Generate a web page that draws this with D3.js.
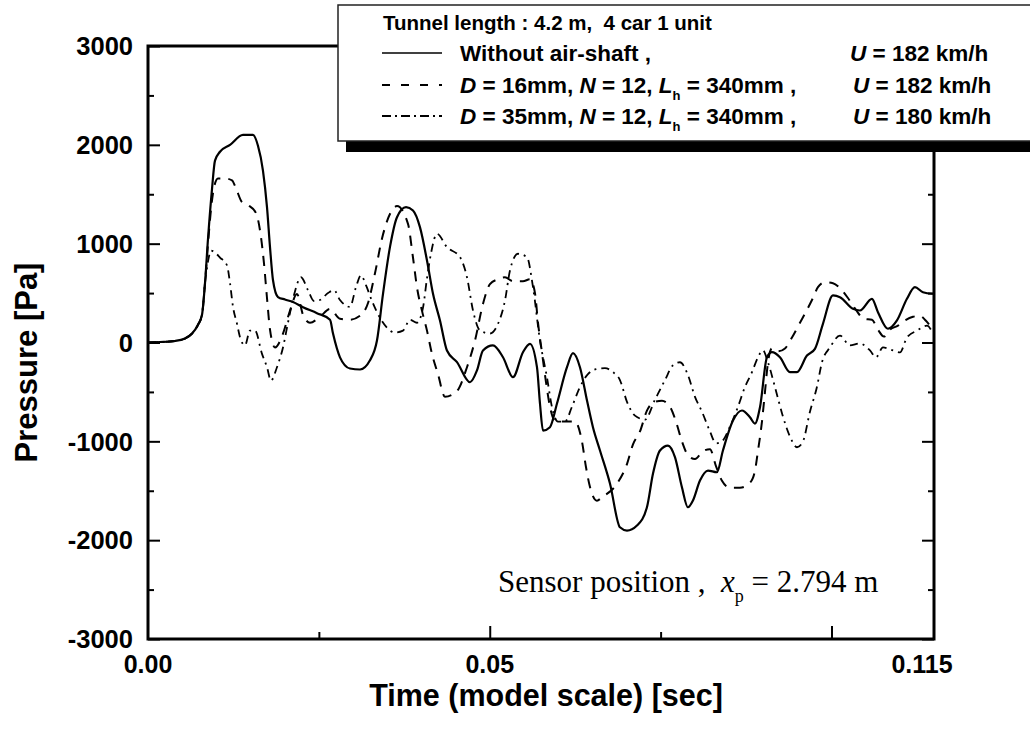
<!DOCTYPE html>
<html>
<head>
<meta charset="utf-8">
<script src="https://cdn.jsdelivr.net/npm/d3@7"></script>
<style>
  html, body { margin: 0; padding: 0; background: #fff; }
  svg { display: block; }
  text { white-space: pre; }
</style>
</head>
<body>
<svg id="chart" width="1030" height="734"></svg>
<script>
// ---------- DATA (time in seconds, pressure in Pa) ----------
const solidTime = [0, 0.00176, 0.00395, 0.00541, 0.00644, 0.00732, 0.00790, 0.00834, 0.00878, 0.00936, 0.00980,
  0.01053, 0.01200, 0.01390, 0.01536, 0.01609, 0.01682, 0.01741, 0.01785, 0.01829, 0.01902, 0.02004, 0.02121,
  0.02268, 0.02472, 0.02663, 0.02707, 0.02809, 0.02955, 0.03102, 0.03248, 0.03350, 0.03438, 0.03540, 0.03643,
  0.03775, 0.03877, 0.03979, 0.04082, 0.04170, 0.04272, 0.04374, 0.04521, 0.04711, 0.04813, 0.04901, 0.05047,
  0.05194, 0.05340, 0.05486, 0.05589, 0.05691, 0.05735, 0.05779, 0.05881, 0.05984, 0.06130, 0.06218, 0.06320,
  0.06423, 0.06510, 0.06613, 0.06759, 0.06905, 0.07008, 0.07154, 0.07300, 0.07388, 0.07491, 0.07608, 0.07710,
  0.07812, 0.07900, 0.07973, 0.08076, 0.08193, 0.08324, 0.08412, 0.08559, 0.08690, 0.08807, 0.08880, 0.08954,
  0.09056, 0.09129, 0.09246, 0.09392, 0.09495, 0.09641, 0.09758, 0.09875, 0.10022, 0.10124, 0.10314, 0.10417,
  0.10592, 0.10680, 0.10826, 0.10958, 0.11104, 0.11221, 0.11338, 0.11485];
const solidPressure = [0, 5, 15, 40, 90, 180, 280, 600, 1050, 1550, 1840,
  1930, 2000, 2100, 2100, 1990, 1740, 1370, 965, 630, 460, 435, 410,
  357, 297, 230, 90, -150, -263, -273, -180, 20, 490, 965, 1268,
  1370, 1336, 1167, 830, 493, 223, -81, -199, -402, -283, -81, -30,
  -149, -351, -98, -13, -250, -617, -891, -857, -617, -250, -108, -250,
  -587, -857, -1093, -1427, -1870, -1903, -1852, -1667, -1329, -1093, -1043, -1160,
  -1465, -1667, -1599, -1397, -1296, -1313, -1093, -790, -688, -756, -820, -655,
  -149, -98, -149, -300, -300, -132, -64, 189, 476, 459, 341, 324,
  442, 307, 139, 223, 442, 560, 509, 493];

const dashTime = [0, 0.00395, 0.00541, 0.00644, 0.00732, 0.00790, 0.00834, 0.00878, 0.00922, 0.00966, 0.01024,
  0.01127, 0.01229, 0.01287, 0.01375, 0.01463, 0.01580, 0.01653, 0.01697, 0.01741, 0.01785, 0.01858, 0.01975,
  0.02077, 0.02180, 0.02268, 0.02370, 0.02516, 0.02663, 0.02809, 0.02955, 0.03102, 0.03219, 0.03321, 0.03423,
  0.03540, 0.03643, 0.03804, 0.03877, 0.03935, 0.04009, 0.04082, 0.04155, 0.04243, 0.04345, 0.04521, 0.04667,
  0.04784, 0.04901, 0.05003, 0.05121, 0.05223, 0.05340, 0.05486, 0.05589, 0.05662, 0.05706, 0.05764, 0.05823,
  0.05881, 0.05954, 0.06101, 0.06247, 0.06349, 0.06408, 0.06466, 0.06569, 0.06642, 0.06861, 0.07008, 0.07096,
  0.07198, 0.07300, 0.07417, 0.07520, 0.07637, 0.07725, 0.07812, 0.07900, 0.08003, 0.08120, 0.08222, 0.08310,
  0.08398, 0.08515, 0.08661, 0.08807, 0.08880, 0.08924, 0.08983, 0.09027, 0.09071, 0.09129, 0.09217, 0.09319,
  0.09422, 0.09539, 0.09641, 0.09729, 0.09802, 0.09905, 0.10022, 0.10124, 0.10241, 0.10358, 0.10475, 0.10592,
  0.10680, 0.10768, 0.10855, 0.10973, 0.11090, 0.11192, 0.11294, 0.11382, 0.11485];
const dashPressure = [0, 15, 40, 90, 180, 280, 600, 1000, 1350, 1570, 1660,
  1660, 1640, 1560, 1420, 1390, 1310, 1066, 800, 450, 130, -50, 90,
  320, 490, 280, 200, 260, 340, 240, 230, 270, 400, 700, 1050,
  1300, 1380, 1200, 860, 560, 320, 120, -115, -320, -550, -490, -250,
  20, 390, 590, 640, 660, 620, 620, 640, 500, 200, -100, -400,
  -650, -790, -800, -800, -1000, -1260, -1460, -1600, -1566, -1430, -1230, -1030,
  -900, -690, -600, -590, -650, -800, -1000, -1140, -1180, -1100, -1080, -1250,
  -1400, -1470, -1470, -1420, -1300, -1100, -800, -500, -200, -60, -90, -60,
  50, 200, 330, 450, 560, 610, 600, 550, 450, 330, 240, 230,
  130, 60, 130, 170, 230, 260, 270, 220, 130];

const dotTime = [0, 0.00395, 0.00541, 0.00644, 0.00732, 0.00790, 0.00834, 0.00878, 0.00922, 0.00995, 0.01053,
  0.01156, 0.01200, 0.01244, 0.01302, 0.01346, 0.01419, 0.01492, 0.01565, 0.01668, 0.01741, 0.01799, 0.01887,
  0.01975, 0.02048, 0.02136, 0.02238, 0.02341, 0.02429, 0.02516, 0.02633, 0.02721, 0.02809, 0.02955, 0.03043,
  0.03116, 0.03189, 0.03277, 0.03394, 0.03497, 0.03614, 0.03731, 0.03833, 0.03935, 0.04023, 0.04082, 0.04140,
  0.04228, 0.04374, 0.04565, 0.04667, 0.04755, 0.04857, 0.05003, 0.05121, 0.05223, 0.05296, 0.05413, 0.05545,
  0.05633, 0.05735, 0.05837, 0.05911, 0.05998, 0.06101, 0.06203, 0.06320, 0.06437, 0.06554, 0.06686, 0.06803,
  0.06905, 0.07008, 0.07125, 0.07271, 0.07417, 0.07564, 0.07681, 0.07783, 0.07900, 0.08003, 0.08105, 0.08222,
  0.08310, 0.08398, 0.08515, 0.08632, 0.08734, 0.08837, 0.08924, 0.08997, 0.09071, 0.09173, 0.09290, 0.09392,
  0.09495, 0.09583, 0.09685, 0.09787, 0.09861, 0.09978, 0.10124, 0.10270, 0.10417, 0.10563, 0.10651, 0.10753,
  0.10900, 0.11002, 0.11104, 0.11251, 0.11397, 0.11485];
const dotPressure = [0, 15, 40, 90, 180, 280, 600, 820, 930, 900, 860,
  780, 600, 360, 190, 54, -30, 121, 121, -115, -250, -385, -250,
  -50, 200, 480, 660, 530, 420, 430, 500, 530, 430, 360, 560,
  680, 580, 420, 250, 150, 100, 120, 230, 200, 350, 650, 900,
  1100, 965, 863, 661, 324, 121, 91, 189, 425, 729, 898, 863,
  560, 20, -351, -655, -800, -800, -650, -450, -320, -270, -260, -300,
  -380, -600, -740, -780, -580, -380, -230, -200, -330, -550, -700, -900,
  -1020, -1000, -850, -650, -450, -300, -150, -80, -200, -450, -750, -950,
  -1060, -1000, -700, -450, -200, -50, 70, -30, -10, -80, -150, -50,
  -80, -100, 50, 120, 170, 90];

const xDomain = [0, 0.115];
const yDomain = [-3000, 3000];
const yMajorTicks = [-3000, -2000, -1000, 0, 1000, 2000, 3000];
const yTickLabels = ["-3000", "-2000", "-1000", "0", "1000", "2000", "3000"];
const yMinorTicks = [-2500, -1500, -500, 500, 1500, 2500];
const xMajorTicks = [0.05, 0.1];
const xMinorTicks = [0.025, 0.075];
const xLabelValues = [0, 0.05, 0.115];
const xTickLabels = ["0.00", "0.05", "0.115"];

const xTitle = "Time (model scale) [sec]";
const yTitle = "Pressure [Pa]";
const legendTitle = "Tunnel length : 4.2 m,  4 car 1 unit";
const speeds = ["182 km/h", "182 km/h", "180 km/h"];

// ---------- LAYOUT ----------
const svg = d3.select("#chart");
const L = 148, R = 934, T = 46, B = 639;
const x = d3.scaleLinear().domain(xDomain).range([L, R]);
const y = d3.scaleLinear().domain(yDomain).range([B, T]);

const line = d3.line().x(d => x(d[0])).y(d => y(d[1])).curve(d3.curveMonotoneX);
const zip = (a, b) => a.map((v, i) => [v, b[i]]);

const plot = svg.append("g");
plot.append("path").datum(zip(dotTime, dotPressure)).attr("d", line)
  .attr("fill", "none").attr("stroke", "#000").attr("stroke-width", 1.8)
  .attr("stroke-dasharray", "8,5,2,5");
plot.append("path").datum(zip(dashTime, dashPressure)).attr("d", line)
  .attr("fill", "none").attr("stroke", "#000").attr("stroke-width", 2)
  .attr("stroke-dasharray", "10,8");
plot.append("path").datum(zip(solidTime, solidPressure)).attr("d", line)
  .attr("fill", "none").attr("stroke", "#000").attr("stroke-width", 2.2);

// frame
svg.append("rect").attr("x", L).attr("y", T).attr("width", R - L).attr("height", B - T)
  .attr("fill", "none").attr("stroke", "#000").attr("stroke-width", 3);

// axes with inward ticks
const gl = svg.append("g").attr("transform", `translate(${L},0)`);
gl.call(d3.axisRight(y).tickValues(yMajorTicks).tickSize(12).tickFormat(""));
gl.append("g").call(d3.axisRight(y).tickValues(yMinorTicks).tickSize(6).tickFormat(""));
const gr = svg.append("g").attr("transform", `translate(${R},0)`);
gr.call(d3.axisLeft(y).tickValues(yMajorTicks).tickSize(12).tickFormat(""));
gr.append("g").call(d3.axisLeft(y).tickValues(yMinorTicks).tickSize(6).tickFormat(""));
const gb = svg.append("g").attr("transform", `translate(0,${B})`);
gb.call(d3.axisTop(x).tickValues(xMajorTicks).tickSize(13).tickFormat(""));
gb.append("g").call(d3.axisTop(x).tickValues(xMinorTicks).tickSize(7).tickFormat(""));
svg.selectAll(".domain").remove();
svg.selectAll(".tick line").attr("stroke", "#000").attr("stroke-width", 2);

// tick labels
const sans = "'Liberation Sans', Arial, sans-serif";
svg.append("g").selectAll("text").data(yMajorTicks).join("text")
  .attr("x", L - 15).attr("y", d => y(d)).attr("dy", "0.36em")
  .attr("text-anchor", "end").attr("font-family", sans).attr("font-weight", "bold")
  .attr("font-size", 25.5).text((d, i) => yTickLabels[i]);
svg.append("g").selectAll("text").data(xLabelValues).join("text")
  .attr("x", (d, i) => x(d) + (i === 2 ? -12 : 0)).attr("y", B + 34)
  .attr("text-anchor", "middle").attr("font-family", sans).attr("font-weight", "bold")
  .attr("font-size", 25).text((d, i) => xTickLabels[i]);

// axis titles
svg.append("text").attr("x", (L + R) / 2 + 5).attr("y", 706).attr("text-anchor", "middle")
  .attr("font-family", sans).attr("font-weight", "bold").attr("font-size", 30.5).text(xTitle);
svg.append("text").attr("transform", `translate(37,${(T + B) / 2 + 20}) rotate(-90)`)
  .attr("text-anchor", "middle").attr("font-family", sans).attr("font-weight", "bold")
  .attr("font-size", 31).text(yTitle);

// sensor annotation
const st = svg.append("text").attr("x", 498).attr("y", 592)
  .attr("font-family", "'Liberation Serif', 'Times New Roman', serif").attr("font-size", 31);
st.append("tspan").text("Sensor position ,  ");
st.append("tspan").attr("font-style", "italic").text("x");
st.append("tspan").attr("font-size", 18).attr("dy", 10).text("p");
st.append("tspan").attr("dy", -10).text(" = 2.794 m");

// legend
const lg = svg.append("g");
lg.append("rect").attr("x", 346).attr("y", 14).attr("width", 720).attr("height", 138).attr("fill", "#000");
lg.append("rect").attr("x", 338).attr("y", 5).attr("width", 720).attr("height", 136)
  .attr("fill", "#fff").attr("stroke", "#222").attr("stroke-width", 1.5);
const lf = { family: sans, size: 22.5 };
lg.append("text").attr("x", 383).attr("y", 30).attr("font-family", lf.family)
  .attr("font-weight", "bold").attr("font-size", 20.5).text(legendTitle);
const rowsY = [61, 93, 124];
const dashes = [null, "8,11", "9,4,2,4"];
rowsY.forEach((ry, i) => {
  const ln = lg.append("line").attr("x1", 382).attr("x2", 442).attr("y1", ry - 8).attr("y2", ry - 8)
    .attr("stroke", "#000").attr("stroke-width", i === 0 ? 1.6 : 1.8);
  if (dashes[i]) ln.attr("stroke-dasharray", dashes[i]);
});
function legendRow(ry, parts) {
  const t = lg.append("text").attr("x", 460).attr("y", ry).attr("font-family", lf.family)
    .attr("font-weight", "bold").attr("font-size", lf.size);
  parts.forEach(p => {
    const s = t.append("tspan").text(p.t);
    if (p.i) s.attr("font-style", "italic");
    if (p.sub) s.attr("font-size", 13).attr("dy", 7);
    if (p.up) s.attr("dy", -7);
  });
}
legendRow(rowsY[0], [{ t: "Without air-shaft ," }]);
legendRow(rowsY[1], [{ t: "D", i: 1 }, { t: " = 16mm, " }, { t: "N", i: 1 }, { t: " = 12, " }, { t: "L", i: 1 },
  { t: "h", sub: 1 }, { t: " = 340mm ,", up: 1 }]);
legendRow(rowsY[2], [{ t: "D", i: 1 }, { t: " = 35mm, " }, { t: "N", i: 1 }, { t: " = 12, " }, { t: "L", i: 1 },
  { t: "h", sub: 1 }, { t: " = 340mm ,", up: 1 }]);
const ux = [850, 853, 853];
rowsY.forEach((ry, i) => {
  const t = lg.append("text").attr("x", ux[i]).attr("y", ry).attr("font-family", lf.family)
    .attr("font-weight", "bold").attr("font-size", lf.size);
  t.append("tspan").attr("font-style", "italic").text("U");
  t.append("tspan").text(" = " + speeds[i]);
});
</script>
</body>
</html>
